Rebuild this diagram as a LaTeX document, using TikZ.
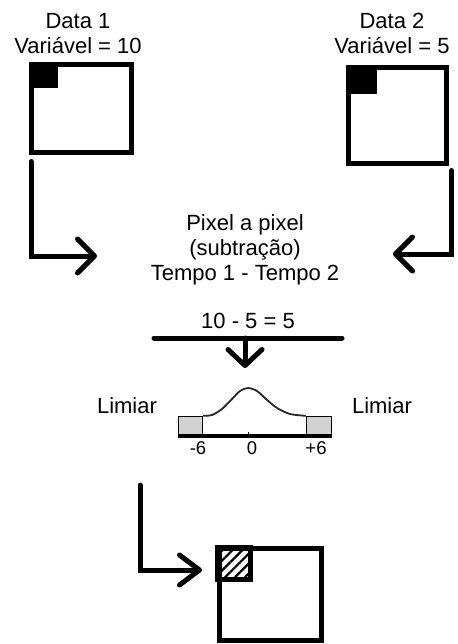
\documentclass[tikz,border=0pt]{standalone}
\usepackage{fontspec}
\setmainfont{Liberation Sans}
\usetikzlibrary{arrows.meta, positioning, patterns.meta}

\begin{document}
\begin{tikzpicture}[x=1pt, y=-1pt,
      txt/.style={align=center, inner sep=0pt, font=\fontsize{22pt}{25pt}\selectfont},
      small/.style={inner sep=0pt, font=\fontsize{18.5pt}{20pt}\selectfont},
      frame/.style={rectangle, draw=black, line width=5pt, inner sep=0pt},
      corner/.style={rectangle, fill=black, inner sep=0pt, anchor=north west},
      hatch/.style={rectangle, draw=black, line width=5pt, inner sep=0pt, anchor=north west, minimum width=33pt, minimum height=32pt, pattern={Lines[angle=45, distance=7pt, line width=2.2pt]}},
      tail/.style={rectangle, draw=black, line width=1.2pt, fill=gray!35, inner sep=0pt, minimum width=24pt, minimum height=19pt},
      flow/.style={-{Straight Barb[length=17pt, width=34pt, round]}, line width=5pt, line cap=round},
      heavy/.style={line width=5pt, line cap=round},
      bell/.style={line width=1.8pt, black!85}
    ]
      \useasboundingbox (0,0) rectangle (457,644);

      \node[txt, anchor=north] (D1) at (78,13.25) {Data 1\\Variável = 10};
      \node[txt, anchor=north] (D2) at (392,13.25) {Data 2\\Variável = 5};

      \node[frame, minimum width=100pt, minimum height=88pt] (img1) at (81,109) {};
      \node[frame, minimum width=98pt, minimum height=96pt] (img2) at (397,116) {};
      \node[corner, minimum width=29pt, minimum height=25pt] (c1) at (img1.north west) {};
      \node[corner, minimum width=31pt, minimum height=28pt] (c2) at (img2.north west) {};

      \node[txt, anchor=north] (op) at (245,214) {Pixel a pixel\\(subtração)\\Tempo 1 - Tempo 2};
      \coordinate (in1) at (97,256);
      \coordinate (in2) at (393,254);

      \draw[flow] ([xshift=2.5pt, yshift=-6pt]img1.south west) |- (in1);
      \draw[flow] ([xshift=3pt, yshift=-4pt]img2.south east) |- (in2);

      \node[txt, anchor=base] (eq) at (248,328) {10 - 5 = 5};
      \coordinate (barL) at (154,338);
      \coordinate (barR) at (342,338);
      \coordinate (split) at (245,338);
      \coordinate (in3) at (245,368);
      \draw[heavy] (barL) -- (barR);
      \draw[flow, -{Straight Barb[length=16pt, width=34pt, round]}] (split) -- (in3);

      \node[txt, anchor=base] (limL) at (127,413) {Limiar};
      \node[txt, anchor=base] (limR) at (382,413) {Limiar};

      \node[tail, anchor=south west] (tl) at (178,436) {};
      \node[tail, anchor=south east, minimum width=25pt] (tr) at (332,436) {};
      \draw[line width=4pt] (tl.south west) -- (tr.south east);
      \draw[bell] plot[smooth] coordinates {(tl.north east) (212,415) (222,409) (232,399) (240,391) (248,388) (257,391) (266,399) (277,408) (290,414) (tr.north west)};
      \draw[line width=0.8pt] (248,432) -- (248,436);

      \node[small, anchor=base] (m6) at (198,454) {-6};
      \node[small, anchor=base] (zero) at (252,454) {0};
      \node[small, anchor=base] (p6) at (316,454) {+6};

      \coordinate (from3) at (140,485);
      \coordinate (in4) at (202,570);
      \node[frame, minimum width=102pt, minimum height=92pt] (out) at (270,594.5) {};
      \node[hatch] (px) at (out.north west) {};
      \draw[flow, -{Straight Barb[length=20pt, width=30pt, round]}] (from3) |- (in4);
    \end{tikzpicture}
\end{document}
